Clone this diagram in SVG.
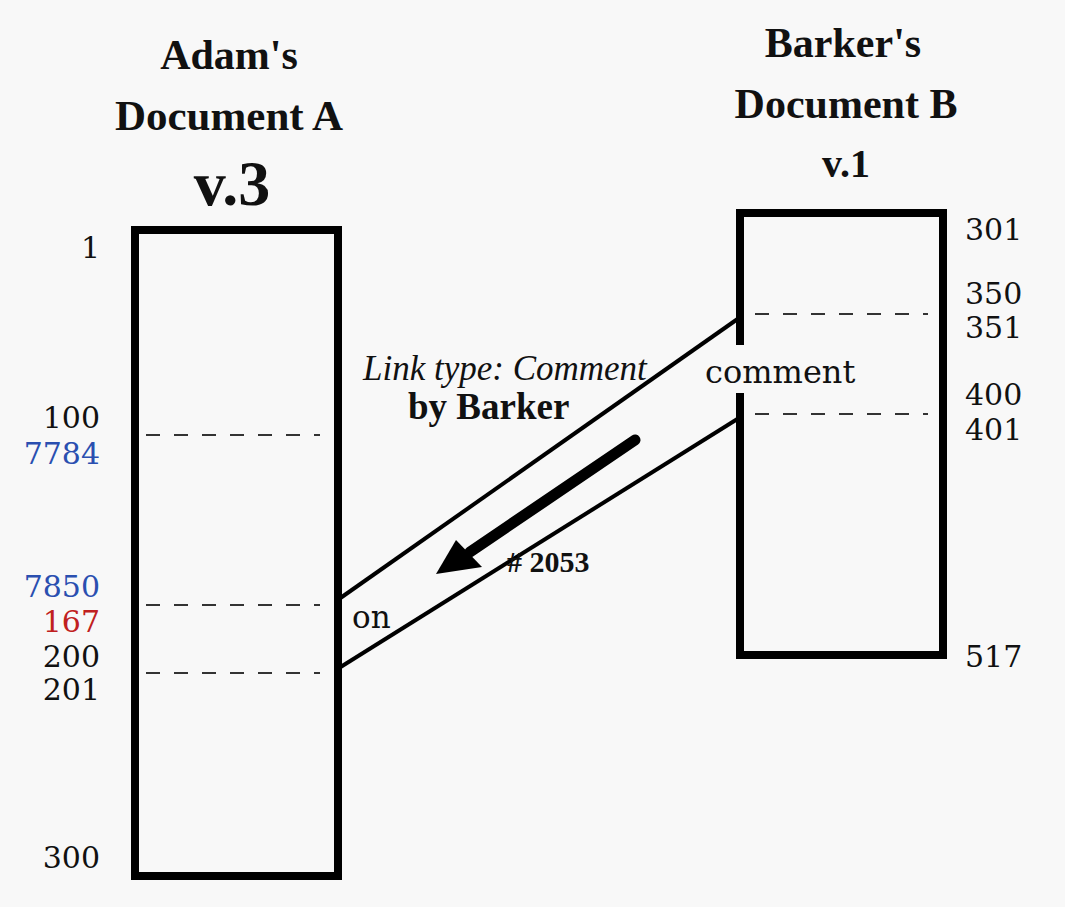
<svg xmlns="http://www.w3.org/2000/svg" width="1065" height="907" viewBox="0 0 1065 907">
<style>
.t{font-family:"Liberation Serif","Times New Roman",serif;fill:#111}
.d{font-family:"DejaVu Serif","Liberation Serif",serif;fill:#111}
.h{font-weight:bold;font-size:42px;text-anchor:middle}
.n{font-size:30px}
.box{fill:none;stroke:#000;stroke-width:8}
.dash{stroke:#333;stroke-width:2;stroke-dasharray:14 14}
.ln{stroke:#000;stroke-width:4;fill:none}
</style>
<rect width="1065" height="907" fill="#f8f8f8"/>
<g id="docA">
<text class="t h" x="229" y="69">Adam's</text>
<text class="t h" x="229" y="130" style="font-size:43px">Document A</text>
<text class="t h" x="232" y="205" style="font-size:64px">v.3</text>
<rect class="box" x="135" y="230" width="203" height="646"/>
<line class="dash" x1="146" y1="435" x2="320" y2="435"/>
<line class="dash" x1="146" y1="605" x2="320" y2="605"/>
<line class="dash" x1="146" y1="673" x2="320" y2="673"/>
<g class="d n" text-anchor="end">
<text x="100" y="258">1</text>
<text x="100" y="428">100</text>
<text x="100" y="464" style="fill:#2a4fb0">7784</text>
<text x="100" y="597" style="fill:#2a4fb0">7850</text>
<text x="100" y="632" style="fill:#c02020">167</text>
<text x="100" y="667">200</text>
<text x="100" y="700">201</text>
<text x="100" y="868">300</text>
</g>
</g>
<g id="docB">
<text class="t h" x="843" y="57">Barker's</text>
<text class="t h" x="846" y="118">Document B</text>
<text class="t h" x="846" y="177" style="font-size:40px">v.1</text>
<path class="box" d="M740 345 V213 H943 V655 H740 V393"/>
<line class="dash" x1="755" y1="314" x2="928" y2="314"/>
<line class="dash" x1="755" y1="414" x2="928" y2="414"/>
<g class="d n">
<text x="965" y="240">301</text>
<text x="965" y="304">350</text>
<text x="965" y="338">351</text>
<text x="965" y="405">400</text>
<text x="965" y="440">401</text>
<text x="965" y="667">517</text>
</g>
</g>
<g id="connectors">
<line class="ln" x1="339" y1="599" x2="739" y2="318"/>
<line class="ln" x1="339" y1="668" x2="739" y2="418"/>
<line x1="635" y1="440" x2="470" y2="552" stroke="#000" stroke-width="11" stroke-linecap="round"/>
<polygon points="436,574 456,540 482,567" fill="#000"/>
</g>
<g id="labels">
<text class="t" x="363" y="380" style="font-size:35px;font-style:italic">Link type: Comment</text>
<text class="t" x="408" y="419" style="font-size:37px;font-weight:bold">by Barker</text>
<text class="d" x="705" y="383" style="font-size:32px">comment</text>
<text class="d" x="352" y="628" style="font-size:31px">on</text>
<text class="t" x="507" y="572" style="font-size:30px;font-weight:bold"># 2053</text>
</g>
</svg>
